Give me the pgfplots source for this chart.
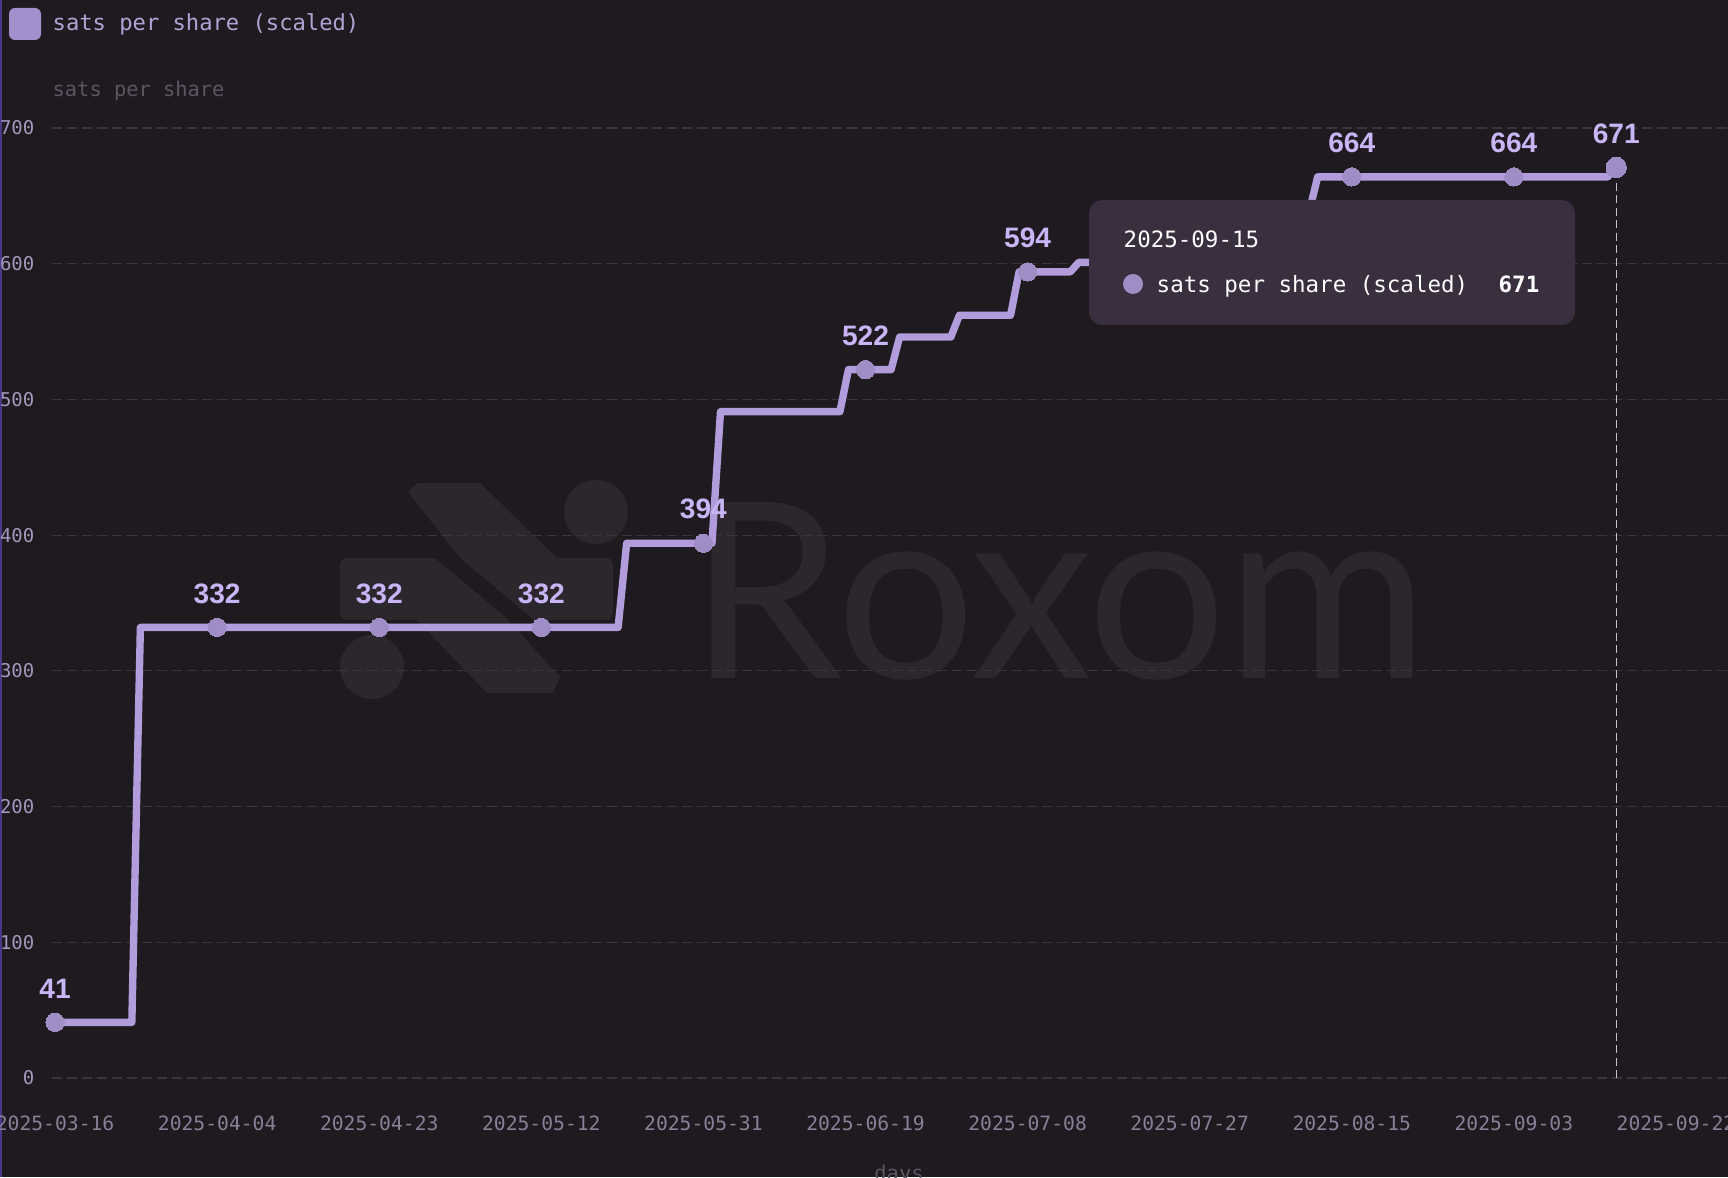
\documentclass[border=0pt]{standalone}
\usepackage{fontspec}
\setmainfont{Liberation Sans}
\setmonofont{DejaVu Sans Mono}
\newfontfamily\wmfont{Lato}
\usepackage{pgfplots}
\pgfplotsset{compat=1.18}

\definecolor{bg}{HTML}{1E1A1F}
\definecolor{gridc}{HTML}{3A353D}
\definecolor{ytickc}{HTML}{A397BD}
\definecolor{xtickc}{HTML}{8A7F97}
\definecolor{dimc}{HTML}{5C5563}
\definecolor{legtext}{HTML}{B3A3D4}
\definecolor{legbox}{HTML}{A38FCB}
\definecolor{linec}{HTML}{B19DDB}
\definecolor{markc}{HTML}{A08DC6}
\definecolor{labelc}{HTML}{C9B5F6}
\definecolor{tipc}{HTML}{3A2F3F}
\definecolor{hoverc}{HTML}{C8C4CC}
\definecolor{wmc}{HTML}{2B272D}
\definecolor{borderc}{HTML}{4E3786}

\begin{document}
\begin{tikzpicture}
\fill[bg, use as bounding box] (0,0) rectangle (172.8mm,117.7mm);

% watermark and header, in reference pixels (1 px = 0.1 mm, y down)
\begin{scope}[x=0.1mm, y=-0.1mm, shift={(0,117.7mm)}]
  \fill[borderc] (0,0) rectangle (2.5,1177);
  \fill[wmc, rounded corners=0.7mm] (340,558) rectangle (613,620);
  \fill[wmc] (408,492) -- (417,483) -- (480,483) -- (557,558) -- (460,558) -- cycle;
  \fill[bg] (435,558) -- (460,558) -- (534,620) -- (509,620) -- cycle;
  \fill[wmc] (417,620) -- (508,620) -- (560,677) -- (553,693) -- (487,693) -- cycle;
  \fill[wmc] (596,512) circle (32);
  \fill[wmc] (372,667) circle (32);
  \node[anchor=base west, inner sep=0pt, text=wmc,
        font=\wmfont\fontsize{70}{70}\selectfont] at (689,678) {Roxom};
  \fill[legbox, rounded corners=0.6mm] (9,8) rectangle (41,40);
  \node[anchor=base west, inner sep=0pt, text=legtext,
        font=\ttfamily\fontsize{6.3}{7}\selectfont] at (52,31) {sats per share (scaled)};
  \node[anchor=base west, inner sep=0pt, text=dimc,
        font=\ttfamily\fontsize{5.8}{7}\selectfont] at (52,97) {sats per share};
  \node[anchor=base, inner sep=0pt, text=dimc,
        font=\ttfamily\fontsize{5.8}{7}\selectfont] at (899,1180) {days};
\end{scope}

\begin{axis}[
  at={(5.2mm,9.9mm)}, anchor=south west,
  scale only axis, width=167.6mm, height=95mm,
  xmin=-0.36, xmax=196.1, ymin=0, ymax=700,
  clip=false,
  axis line style={draw=none},
  major tick length=0pt,
  xtick={0,19,...,190},
  xticklabels={2025-03-16,2025-04-04,2025-04-23,2025-05-12,2025-05-31,2025-06-19,2025-07-08,2025-07-27,2025-08-15,2025-09-03,2025-09-22},
  ytick={0,100,...,700},
  ymajorgrids,
  grid style={gridc, line width=0.35pt, dash pattern=on 1mm off 0.5mm},
  /pgf/number format/assume math mode=true,
  yticklabel style={font=\ttfamily\fontsize{5.4}{6}\selectfont, text=ytickc,
                    anchor=east, inner sep=0pt, xshift=-1.7mm},
  xticklabel style={font=\ttfamily\fontsize{5.6}{6}\selectfont, text=xtickc,
                    anchor=center, inner sep=0pt, yshift=-4.5mm},
  every node near coord/.append style={font=\bfseries\fontsize{8}{9}\selectfont,
                    text=labelc, anchor=center, yshift=3.4mm},
  dots/.style={markc, only marks, mark=*, mark size=#1,
               mark options={fill=markc, draw=markc, line width=0pt}},
]
% crosshair at the hovered day
\addplot[hoverc, line width=0.35pt, dash pattern=on 0.8mm off 0.45mm]
  coordinates {(183,0) (183,662)};

% daily value, day 0 = 2025-03-16
\addplot[linec, line width=2.1pt, line join=round, line cap=round] coordinates {
(0,41) (9,41) (10,332) (66,332) (67,394) (77,394) (78,491) (92,491)
(93,522) (98,522) (99,546) (105,546) (106,562) (112,562) (113,594)
(119,594) (120,601) (127,601) (128,614) (134,614) (135,626) (141,626)
(142,638) (147,638) (148,664) (182,664) (183,671)
};

\addplot[dots=2.6pt, nodes near coords] coordinates {
(0,41) (19,332) (38,332) (57,332) (76,394) (95,522) (114,594) (152,664) (171,664)
};
\addplot[dots=2.6pt] coordinates {(133,614)};
\addplot[dots=2.9pt, nodes near coords] coordinates {(183,671)};
\end{axis}

% tooltip
\begin{scope}[x=0.1mm, y=-0.1mm, shift={(0,117.7mm)}]
  \fill[tipc, rounded corners=1.3mm] (1089,200) rectangle (1575,325);
  \node[anchor=base west, inner sep=0pt, text=white,
        font=\ttfamily\fontsize{6.4}{7}\selectfont] at (1123,248) {2025-09-15};
  \fill[markc] (1133,284) circle (10);
  \node[anchor=base west, inner sep=0pt, text=white,
        font=\ttfamily\fontsize{6.4}{7}\selectfont] at (1156,293) {sats per share (scaled)};
  \node[anchor=base east, inner sep=0pt, text=white,
        font=\ttfamily\bfseries\fontsize{6.4}{7}\selectfont] at (1540,293) {671};
\end{scope}
\end{tikzpicture}
\end{document}
